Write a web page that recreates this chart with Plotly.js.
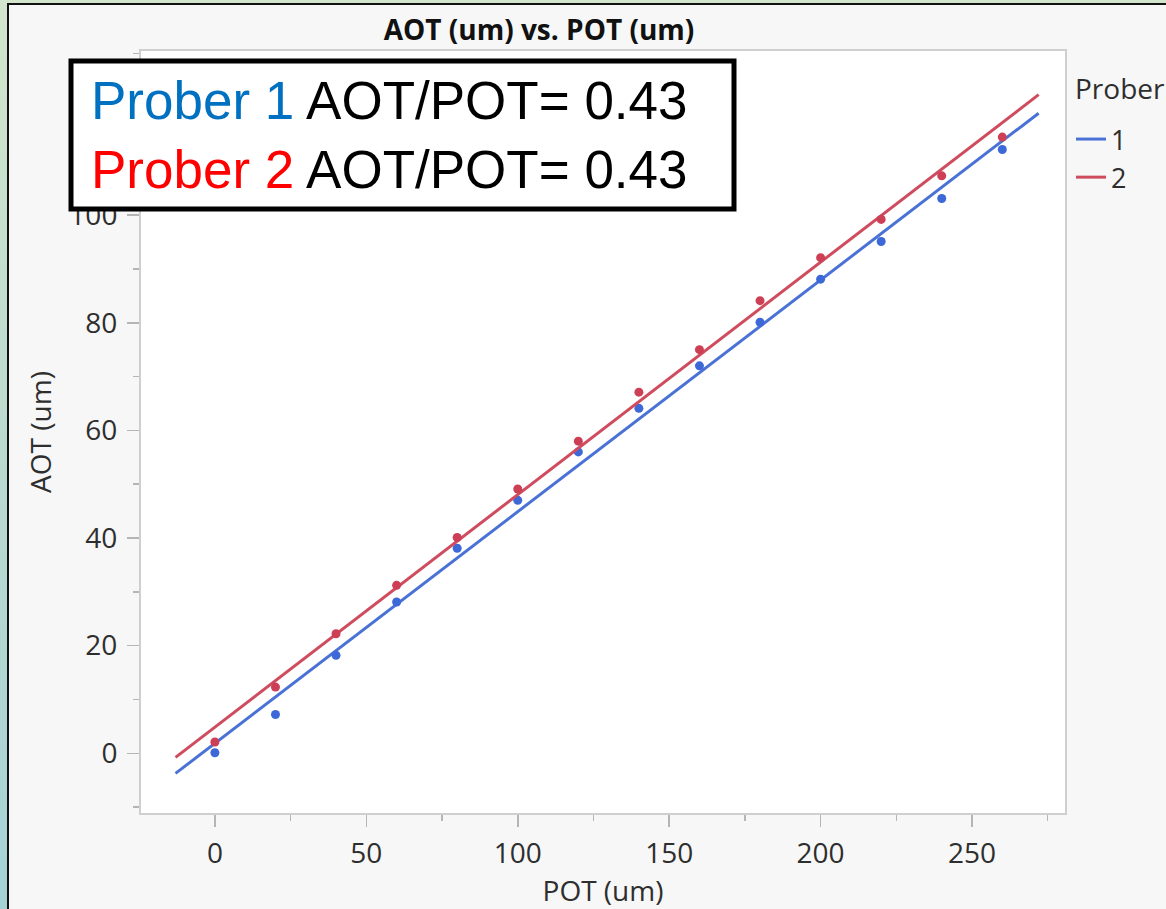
<!DOCTYPE html>
<html><head><meta charset="utf-8">
<script src="https://cdn.plot.ly/plotly-3.0.1.min.js"></script>
<style>
html,body{margin:0;padding:0;background:#f7f7f7;}
#wrap{position:relative;width:1166px;height:909px;overflow:hidden;}
#chart{position:absolute;left:0;top:0;width:1166px;height:909px;}
.edgeL{position:absolute;left:0;top:0;width:7px;height:909px;background:linear-gradient(#d3e5cc,#b8d9d0 55%,#a6d2d6);}
.edgeT{position:absolute;left:0;top:0;width:1166px;height:3px;background:#d3e5cc;}
.lineL{position:absolute;left:7px;top:3px;width:2px;height:906px;background:#111;}
.lineT{position:absolute;left:7px;top:3px;width:1159px;height:2px;background:#111;}
</style></head>
<body><div id="wrap"><div id="chart"></div><div class="edgeL"></div><div class="edgeT"></div><div class="lineL"></div><div class="lineT"></div></div>
<script>
// ---- data ----
const pot = [0, 20, 40, 60, 80, 100, 120, 140, 160, 180, 200, 220, 240, 260];
const aotProber1 = [0.1, 7.2, 18.2, 28.1, 38.1, 47.0, 56.0, 64.1, 72.0, 80.1, 88.1, 95.1, 103.1, 112.2];
const aotProber2 = [2.1, 12.3, 22.2, 31.2, 40.1, 49.1, 58.0, 67.1, 75.0, 84.1, 92.1, 99.2, 107.3, 114.5];
const proberNames = ['1', '2'];
const legendTitle = 'Prober';
const fitRange = [-13, 272];
const lineColors = ['#4a72d6', '#cf4b5e'];
const markerColors = ['#3d68d8', '#cc3f55'];
const labelColors = ['#0070C0', '#FF0000'];

function linFit(x, y) {
  const n = x.length;
  const mx = x.reduce((a, b) => a + b, 0) / n;
  const my = y.reduce((a, b) => a + b, 0) / n;
  let sxy = 0, sxx = 0;
  for (let i = 0; i < n; i++) { sxy += (x[i] - mx) * (y[i] - my); sxx += (x[i] - mx) ** 2; }
  const slope = sxy / sxx;
  return { slope, intercept: my - slope * mx };
}

const series = [aotProber1, aotProber2];
const traces = [];
const ratios = [];
series.forEach((ys, i) => {
  const f = linFit(pot, ys);
  ratios.push(f.slope.toFixed(2));
  traces.push({
    x: fitRange, y: fitRange.map(v => f.intercept + f.slope * v),
    mode: 'lines', type: 'scatter', name: proberNames[i],
    legendgroup: 'g' + i,
    line: { color: lineColors[i], width: 3 }, hoverinfo: 'skip'
  });
  traces.push({
    x: pot, y: ys, mode: 'markers', type: 'scatter', name: proberNames[i],
    legendgroup: 'g' + i, showlegend: false,
    marker: { color: markerColors[i], size: 9 }
  });
});

// pixel -> paper helpers (plot area 141..1065 x, 51..813 y)
const L = 141, R = 1065, T = 51, B = 813;
const px = p => (p - L) / (R - L);
const py = p => (B - p) / (B - T);

const tickFont = { family: 'Open Sans, Noto Sans, sans-serif', size: 28, color: '#2e2e2e' };
const annText = proberNames.map((n, i) =>
  `<span style="color:${labelColors[i]}">Prober ${n}</span> AOT/POT= ${ratios[i]}`).join('<br>');

const layout = {
  width: 1166, height: 909,
  margin: { l: L, r: 1166 - R, t: T, b: 909 - B, pad: 0, autoexpand: false },
  paper_bgcolor: '#f7f7f7', plot_bgcolor: '#ffffff',
  showlegend: true,
  title: { text: '<b>AOT (um) vs. POT (um)</b>', font: { family: 'Open Sans, sans-serif', size: 28, color: '#111' },
           x: px(539), xref: 'paper', xanchor: 'center', y: 1 - 30 / 909, yanchor: 'middle' },
  xaxis: {
    range: [-24.4, 280.7], tickvals: [0, 50, 100, 150, 200, 250], ticks: 'outside', ticklen: 12,
    tickcolor: '#b5b5b5', tickwidth: 1.5, showgrid: false, zeroline: false,
    showline: true, linecolor: '#cfcfcf', linewidth: 2, mirror: true,
    tickfont: tickFont, ticklabelstandoff: 2,
    minor: { dtick: 25, tick0: 0, ticks: 'outside', ticklen: 6, tickcolor: '#b5b5b5', tickwidth: 1.5, showgrid: false },
    title: { text: 'POT (um)', font: tickFont, standoff: 14 }
  },
  yaxis: {
    range: [-11.1, 130.5], tickvals: [0, 20, 40, 60, 80, 100], ticks: 'outside', ticklen: 12,
    tickcolor: '#b5b5b5', tickwidth: 1.5, showgrid: false, zeroline: false,
    showline: true, linecolor: '#cfcfcf', linewidth: 2, mirror: true,
    tickfont: tickFont, ticklabelstandoff: 4,
    minor: { dtick: 10, tick0: 0, ticks: 'outside', ticklen: 6, tickcolor: '#b5b5b5', tickwidth: 1.5, showgrid: false },
    title: { text: 'AOT (um)', font: tickFont, standoff: 10 }
  },
  legend: {
    font: Object.assign({}, tickFont, { size: 27 }), x: px(1071), xanchor: 'left', y: py(115), yanchor: 'top',
    bgcolor: 'rgba(0,0,0,0)', tracegroupgap: 0, traceorder: 'grouped', itemwidth: 30
  },
  shapes: [{
    type: 'rect', xref: 'paper', yref: 'paper', layer: 'above',
    x0: px(71), x1: px(734), y0: py(209), y1: py(61),
    line: { color: '#000', width: 5 }, fillcolor: '#ffffff'
  }],
  annotations: [{
    xref: 'paper', yref: 'paper', x: px(89), y: py(135), xanchor: 'left', yanchor: 'middle',
    text: annText, showarrow: false, align: 'left',
    font: { family: 'Liberation Sans, Arial, sans-serif', size: 53, color: '#000' }
  }, {
    xref: 'paper', yref: 'paper', x: px(1073), y: py(88), xanchor: 'left', yanchor: 'middle',
    text: legendTitle, showarrow: false, font: tickFont
  }]
};

Plotly.newPlot('chart', traces, layout, { displayModeBar: false, staticPlot: true });
</script>
</body></html>
